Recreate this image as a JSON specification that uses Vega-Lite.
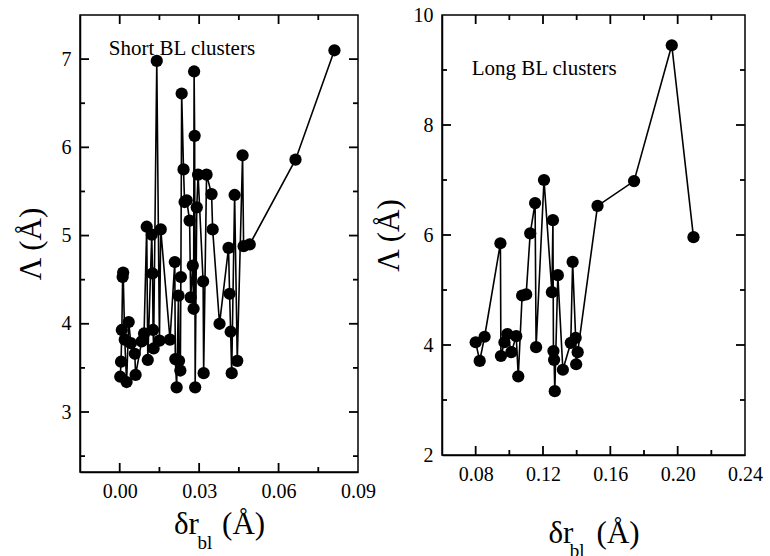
{
  "$schema": "https://vega.github.io/schema/vega-lite/v6.json",
  "background": "white",
  "padding": {"left": 14, "top": 4, "right": 0, "bottom": 0},
  "spacing": 84,
  "bounds": "flush",
  "config": {
    "font": "Liberation Serif",
    "view": {"stroke": "black", "strokeWidth": 1.5},
    "axis": {
      "grid": false, "ticks": false, "zindex": 0,
      "domainColor": "black", "domainWidth": 1.5,
      "labelFont": "Liberation Serif", "labelFontSize": 20, "labelColor": "black", "labelFontWeight": "normal",
      "labelOverlap": false, "labelFlush": false, "labelPadding": 9,
      "titleFont": "Liberation Serif", "titleFontSize": 31, "titleFontWeight": "normal", "titleColor": "black"
    },
    "tick": {"color": "black", "thickness": 1.8, "opacity": 1}
  },
  "datasets": {
    "short": [
      {"x": 0.0002, "y": 3.40}, {"x": 0.0005, "y": 3.57}, {"x": 0.0008, "y": 3.93}, {"x": 0.0011, "y": 4.53},
      {"x": 0.0013, "y": 4.58}, {"x": 0.0019, "y": 3.82}, {"x": 0.0026, "y": 3.34}, {"x": 0.0034, "y": 4.02},
      {"x": 0.0042, "y": 3.78}, {"x": 0.0057, "y": 3.66}, {"x": 0.0060, "y": 3.42}, {"x": 0.0083, "y": 3.80},
      {"x": 0.0092, "y": 3.89}, {"x": 0.0102, "y": 5.10}, {"x": 0.0106, "y": 3.59}, {"x": 0.0121, "y": 5.01},
      {"x": 0.0124, "y": 4.57}, {"x": 0.0126, "y": 3.93}, {"x": 0.0128, "y": 3.72}, {"x": 0.0140, "y": 6.98},
      {"x": 0.0150, "y": 3.81}, {"x": 0.0155, "y": 5.07}, {"x": 0.0190, "y": 3.82}, {"x": 0.0208, "y": 4.70},
      {"x": 0.0210, "y": 3.60}, {"x": 0.0215, "y": 3.28}, {"x": 0.0222, "y": 4.32}, {"x": 0.0224, "y": 3.58},
      {"x": 0.0229, "y": 3.47}, {"x": 0.0231, "y": 4.53}, {"x": 0.0234, "y": 6.61}, {"x": 0.0241, "y": 5.75},
      {"x": 0.0245, "y": 5.38}, {"x": 0.0253, "y": 5.40}, {"x": 0.0264, "y": 5.17}, {"x": 0.0268, "y": 4.30},
      {"x": 0.0276, "y": 4.66}, {"x": 0.0279, "y": 4.17}, {"x": 0.0281, "y": 6.86}, {"x": 0.0283, "y": 6.13},
      {"x": 0.0285, "y": 3.28}, {"x": 0.0291, "y": 5.32}, {"x": 0.0296, "y": 5.69}, {"x": 0.0315, "y": 4.48},
      {"x": 0.0317, "y": 3.44}, {"x": 0.0328, "y": 5.69}, {"x": 0.0347, "y": 5.47}, {"x": 0.0351, "y": 5.07},
      {"x": 0.0377, "y": 4.00}, {"x": 0.0411, "y": 4.86}, {"x": 0.0415, "y": 4.34}, {"x": 0.0419, "y": 3.91},
      {"x": 0.0423, "y": 3.44}, {"x": 0.0434, "y": 5.46}, {"x": 0.0444, "y": 3.58}, {"x": 0.0464, "y": 5.91},
      {"x": 0.0468, "y": 4.88}, {"x": 0.0491, "y": 4.90}, {"x": 0.0664, "y": 5.86}, {"x": 0.0811, "y": 7.10}
    ],
    "long": [
      {"x": 0.0800, "y": 4.05}, {"x": 0.0824, "y": 3.71}, {"x": 0.0853, "y": 4.15}, {"x": 0.0947, "y": 5.85},
      {"x": 0.0950, "y": 3.80}, {"x": 0.0971, "y": 4.05}, {"x": 0.0988, "y": 4.20}, {"x": 0.1012, "y": 3.87},
      {"x": 0.1041, "y": 4.16}, {"x": 0.1053, "y": 3.43}, {"x": 0.1076, "y": 4.90}, {"x": 0.1100, "y": 4.92},
      {"x": 0.1124, "y": 6.03}, {"x": 0.1153, "y": 6.58}, {"x": 0.1159, "y": 3.96}, {"x": 0.1206, "y": 7.00},
      {"x": 0.1253, "y": 4.96}, {"x": 0.1259, "y": 6.27}, {"x": 0.1262, "y": 3.89}, {"x": 0.1266, "y": 3.73},
      {"x": 0.1270, "y": 3.16}, {"x": 0.1288, "y": 5.27}, {"x": 0.1318, "y": 3.55}, {"x": 0.1365, "y": 4.04},
      {"x": 0.1376, "y": 5.51}, {"x": 0.1394, "y": 4.13}, {"x": 0.1397, "y": 3.65}, {"x": 0.1406, "y": 3.87},
      {"x": 0.1524, "y": 6.53}, {"x": 0.1741, "y": 6.98}, {"x": 0.1965, "y": 9.45}, {"x": 0.2094, "y": 5.96}
    ],
    "sxMaj": [{"v": 0}, {"v": 0.03}, {"v": 0.06}],
    "sxMin": [{"v": 0.015}, {"v": 0.045}, {"v": 0.075}],
    "syMaj": [{"v": 3}, {"v": 4}, {"v": 5}, {"v": 6}, {"v": 7}],
    "syMin": [{"v": 2.5}, {"v": 3.5}, {"v": 4.5}, {"v": 5.5}, {"v": 6.5}],
    "lxMaj": [{"v": 0.08}, {"v": 0.12}, {"v": 0.16}, {"v": 0.2}],
    "lxMin": [{"v": 0.1}, {"v": 0.14}, {"v": 0.18}, {"v": 0.22}],
    "lyMaj": [{"v": 4}, {"v": 6}, {"v": 8}],
    "lyMin": [{"v": 3}, {"v": 5}, {"v": 7}, {"v": 9}]
  },
  "hconcat": [
    {
      "width": 278, "height": 457,
      "layer": [
        {
          "data": {"name": "short"},
          "mark": {"type": "line", "color": "black", "strokeWidth": 1.6, "point": {"filled": true, "size": 150, "color": "black", "opacity": 1}},
          "encoding": {
            "x": {"field": "x", "type": "quantitative", "scale": {"domain": [-0.015, 0.09], "nice": false, "zero": false},
              "axis": {"orient": "bottom", "values": [0, 0.03, 0.06, 0.09], "format": ".2f",
                "title": "δr\u00a0\u00a0\u00a0(Å)", "titlePadding": 8}},
            "y": {"field": "y", "type": "quantitative", "scale": {"domain": [2.32, 7.5], "nice": false, "zero": false},
              "axis": {"orient": "left", "values": [3, 4, 5, 6, 7], "format": "d",
                "title": "Λ (Å)", "titlePadding": 14}}
          }
        },
        {"data": {"name": "sxMaj"}, "mark": {"type": "tick", "orient": "vertical", "size": 9, "yOffset": -4.5},
         "encoding": {"x": {"field": "v", "type": "quantitative"}, "y": {"datum": 2.32, "type": "quantitative"}}},
        {"data": {"name": "sxMin"}, "mark": {"type": "tick", "orient": "vertical", "size": 5, "yOffset": -2.5},
         "encoding": {"x": {"field": "v", "type": "quantitative"}, "y": {"datum": 2.32, "type": "quantitative"}}},
        {"data": {"name": "sxMaj"}, "mark": {"type": "tick", "orient": "vertical", "size": 9, "yOffset": 4.5},
         "encoding": {"x": {"field": "v", "type": "quantitative"}, "y": {"datum": 7.5, "type": "quantitative"}}},
        {"data": {"name": "sxMin"}, "mark": {"type": "tick", "orient": "vertical", "size": 5, "yOffset": 2.5},
         "encoding": {"x": {"field": "v", "type": "quantitative"}, "y": {"datum": 7.5, "type": "quantitative"}}},
        {"data": {"name": "syMaj"}, "mark": {"type": "tick", "orient": "horizontal", "size": 9, "xOffset": 4.5},
         "encoding": {"y": {"field": "v", "type": "quantitative"}, "x": {"datum": -0.015, "type": "quantitative"}}},
        {"data": {"name": "syMin"}, "mark": {"type": "tick", "orient": "horizontal", "size": 5, "xOffset": 2.5},
         "encoding": {"y": {"field": "v", "type": "quantitative"}, "x": {"datum": -0.015, "type": "quantitative"}}},
        {"data": {"name": "syMaj"}, "mark": {"type": "tick", "orient": "horizontal", "size": 9, "xOffset": -4.5},
         "encoding": {"y": {"field": "v", "type": "quantitative"}, "x": {"datum": 0.09, "type": "quantitative"}}},
        {"data": {"name": "syMin"}, "mark": {"type": "tick", "orient": "horizontal", "size": 5, "xOffset": -2.5},
         "encoding": {"y": {"field": "v", "type": "quantitative"}, "x": {"datum": 0.09, "type": "quantitative"}}},
        {
          "data": {"values": [{}]},
          "mark": {"type": "text", "font": "Liberation Serif", "fontSize": 21, "fontWeight": "normal", "align": "left", "baseline": "middle", "fill": "black"},
          "encoding": {
            "x": {"datum": -0.0041, "type": "quantitative"},
            "y": {"datum": 7.12, "type": "quantitative"},
            "text": {"value": "Short BL clusters"}
          }
        },
        {
          "data": {"values": [{}]},
          "mark": {"type": "text", "font": "Liberation Serif", "fontSize": 19, "fontWeight": "normal", "align": "left", "baseline": "middle", "fill": "black"},
          "encoding": {
            "x": {"datum": 0.0294, "type": "quantitative"},
            "y": {"datum": 1.52, "type": "quantitative"},
            "text": {"value": "bl"}
          }
        }
      ]
    },
    {
      "width": 303, "height": 440,
      "layer": [
        {
          "data": {"name": "long"},
          "mark": {"type": "line", "color": "black", "strokeWidth": 1.6, "point": {"filled": true, "size": 150, "color": "black", "opacity": 1}},
          "encoding": {
            "x": {"field": "x", "type": "quantitative", "scale": {"domain": [0.06, 0.24], "nice": false, "zero": false},
              "axis": {"orient": "bottom", "values": [0.08, 0.12, 0.16, 0.2, 0.24], "format": ".2f",
                "title": "δr\u00a0\u00a0\u00a0(Å)", "titlePadding": 34}},
            "y": {"field": "y", "type": "quantitative", "scale": {"domain": [2, 10], "nice": false, "zero": false},
              "axis": {"orient": "left", "values": [2, 4, 6, 8, 10], "format": "d",
                "title": "Λ (Å)", "titlePadding": 8}}
          }
        },
        {"data": {"name": "lxMaj"}, "mark": {"type": "tick", "orient": "vertical", "size": 9, "yOffset": -4.5},
         "encoding": {"x": {"field": "v", "type": "quantitative"}, "y": {"datum": 2, "type": "quantitative"}}},
        {"data": {"name": "lxMin"}, "mark": {"type": "tick", "orient": "vertical", "size": 5, "yOffset": -2.5},
         "encoding": {"x": {"field": "v", "type": "quantitative"}, "y": {"datum": 2, "type": "quantitative"}}},
        {"data": {"name": "lxMaj"}, "mark": {"type": "tick", "orient": "vertical", "size": 9, "yOffset": 4.5},
         "encoding": {"x": {"field": "v", "type": "quantitative"}, "y": {"datum": 10, "type": "quantitative"}}},
        {"data": {"name": "lxMin"}, "mark": {"type": "tick", "orient": "vertical", "size": 5, "yOffset": 2.5},
         "encoding": {"x": {"field": "v", "type": "quantitative"}, "y": {"datum": 10, "type": "quantitative"}}},
        {"data": {"name": "lyMaj"}, "mark": {"type": "tick", "orient": "horizontal", "size": 9, "xOffset": 4.5},
         "encoding": {"y": {"field": "v", "type": "quantitative"}, "x": {"datum": 0.06, "type": "quantitative"}}},
        {"data": {"name": "lyMin"}, "mark": {"type": "tick", "orient": "horizontal", "size": 5, "xOffset": 2.5},
         "encoding": {"y": {"field": "v", "type": "quantitative"}, "x": {"datum": 0.06, "type": "quantitative"}}},
        {"data": {"name": "lyMaj"}, "mark": {"type": "tick", "orient": "horizontal", "size": 9, "xOffset": -4.5},
         "encoding": {"y": {"field": "v", "type": "quantitative"}, "x": {"datum": 0.24, "type": "quantitative"}}},
        {"data": {"name": "lyMin"}, "mark": {"type": "tick", "orient": "horizontal", "size": 5, "xOffset": -2.5},
         "encoding": {"y": {"field": "v", "type": "quantitative"}, "x": {"datum": 0.24, "type": "quantitative"}}},
        {
          "data": {"values": [{}]},
          "mark": {"type": "text", "font": "Liberation Serif", "fontSize": 21, "fontWeight": "normal", "align": "left", "baseline": "middle", "fill": "black"},
          "encoding": {
            "x": {"datum": 0.0776, "type": "quantitative"},
            "y": {"datum": 9.02, "type": "quantitative"},
            "text": {"value": "Long BL clusters"}
          }
        },
        {
          "data": {"values": [{}]},
          "mark": {"type": "text", "font": "Liberation Serif", "fontSize": 19, "fontWeight": "normal", "align": "left", "baseline": "middle", "fill": "black"},
          "encoding": {
            "x": {"datum": 0.1359, "type": "quantitative"},
            "y": {"datum": 0.26, "type": "quantitative"},
            "text": {"value": "bl"}
          }
        }
      ]
    }
  ]
}
